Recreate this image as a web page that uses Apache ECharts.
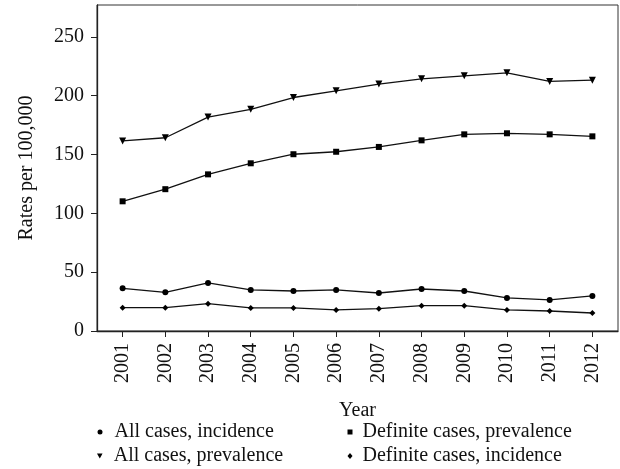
<!DOCTYPE html>
<html>
<head>
<meta charset="utf-8">
<script src="https://cdn.jsdelivr.net/npm/echarts@6/dist/echarts.min.js"></script>
<style>
  html, body { margin: 0; padding: 0; background: #fff; }
  #main { width: 620px; height: 469px; }
</style>
</head>
<body>
<div id="main"></div>
<script>
// 年份
var years = [2001, 2002, 2003, 2004, 2005, 2006, 2007, 2008, 2009, 2010, 2011, 2012];
// y轴刻度
var yTicks = [0, 50, 100, 150, 200, 250];
// 各系列数据
var allIncidence = [36.3, 32.9, 40.8, 34.9, 34.0, 34.9, 32.3, 35.7, 34.0, 28.1, 26.4, 29.8];
var allPrevalence = [161.5, 164.2, 181.8, 188.4, 198.4, 204.1, 209.8, 214.3, 216.8, 219.4, 212.1, 213.1];
var defPrevalence = [110.2, 120.5, 133.1, 142.5, 150.2, 152.3, 156.4, 162.0, 167.1, 168.0, 167.1, 165.4];
var defIncidence = [19.8, 19.8, 23.2, 19.6, 19.6, 17.9, 19.0, 21.5, 21.5, 17.9, 17.0, 15.3];

var names = ['All cases, incidence', 'All cases, prevalence', 'Definite cases, prevalence', 'Definite cases, incidence'];

function pairs(arr) {
    var out = [];
    for (var i = 0; i < years.length; i++) {
        out.push([years[i], arr[i]]);
    }
    return out;
}

var font = "'Liberation Serif', 'DejaVu Serif', serif";
var fs = 20;

function line(name, data, symbol, size, rotate) {
    return {
        name: name,
        type: 'line',
        data: pairs(data),
        symbol: symbol,
        symbolSize: size,
        symbolRotate: rotate || 0,
        showAllSymbol: true,
        lineStyle: { color: '#111', width: 1.3 },
        itemStyle: { color: '#000' },
        emphasis: { disabled: true },
        animation: false
    };
}

// 图例：每项单独放
function legendItem(name, icon, cx, top, w, h, gap) {
    return {
        left: cx - w / 2,
        top: top,
        padding: 0,
        itemWidth: w,
        itemHeight: h,
        selectedMode: false,
        textStyle: { fontFamily: font, fontSize: fs, color: '#111', padding: [0, 0, 0, gap] },
        data: [{ name: name, icon: icon }]
    };
}

var myChart = echarts.init(document.getElementById('main'));
var option = {
    animation: false,
    grid: {
        left: 97, top: 5, right: 2, bottom: 138,
        show: true, borderColor: '#333', borderWidth: 1
    },
    xAxis: {
        type: 'value',
        min: 2000.4,
        max: 2012.6,
        name: 'Year',
        nameLocation: 'middle',
        nameGap: 70,
        nameTextStyle: { fontFamily: font, fontSize: fs, color: '#111' },
        splitLine: { show: false },
        axisLine: { lineStyle: { color: '#222', width: 1.3 } },
        axisTick: { show: true, length: 6, customValues: years, lineStyle: { color: '#222' } },
        axisLabel: {
            customValues: years,
            rotate: 90,
            fontFamily: font,
            fontSize: fs,
            color: '#111',
            margin: 12,
            formatter: function (v) { return String(v); }
        }
    },
    yAxis: {
        type: 'value',
        min: 0,
        max: 277,
        name: 'Rates per 100,000',
        nameLocation: 'middle',
        nameGap: 60,
        nameTextStyle: { fontFamily: font, fontSize: fs, color: '#111' },
        splitLine: { show: false },
        axisLine: { show: true, lineStyle: { color: '#222', width: 1.3 } },
        axisTick: { show: true, length: 6, customValues: yTicks, lineStyle: { color: '#222' } },
        axisLabel: {
            customValues: yTicks,
            fontFamily: font,
            fontSize: fs,
            color: '#111',
            margin: 13
        }
    },
    legend: [
        legendItem(names[0], 'circle', 100, 422, 5, 5, 7),
        legendItem(names[1], 'path://M0,0 L10,0 L5,9 Z', 100, 446, 6, 5, 6),
        legendItem(names[2], 'rect', 350, 422, 5, 5, 5),
        legendItem(names[3], 'diamond', 350, 446, 5, 6, 5)
    ],
    series: [
        line(names[0], allIncidence, 'circle', 6),
        line(names[1], allPrevalence, 'triangle', 7, 180),
        line(names[2], defPrevalence, 'rect', 6),
        line(names[3], defIncidence, 'diamond', 6)
    ]
};
myChart.setOption(option);
</script>
</body>
</html>
